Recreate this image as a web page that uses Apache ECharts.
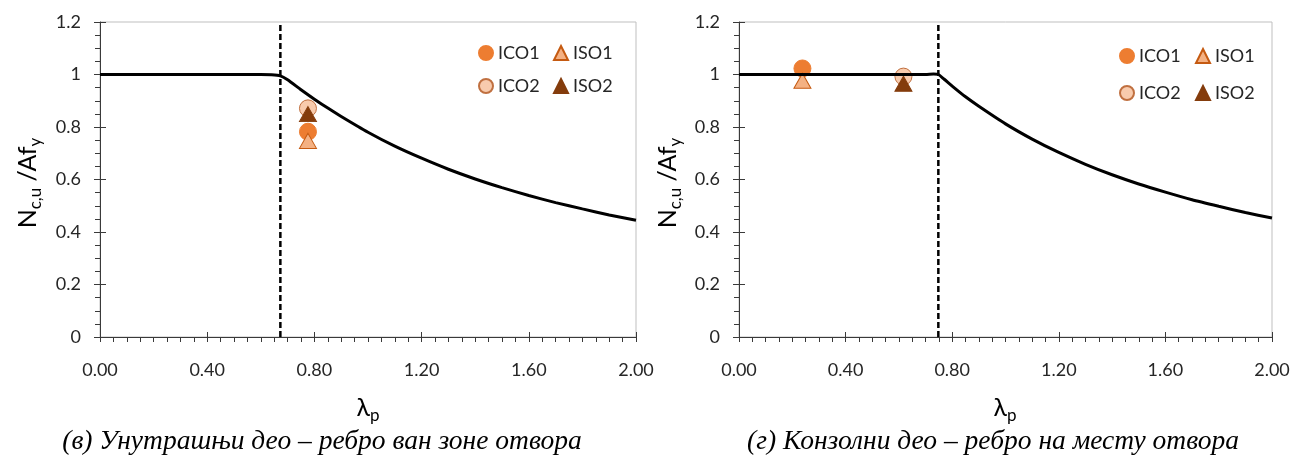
<!DOCTYPE html>
<html>
<head>
<meta charset="utf-8">
<script src="https://cdn.jsdelivr.net/npm/echarts@6/dist/echarts.min.js"></script>
<style>
  html, body { margin: 0; padding: 0; background: #fff; }
  #chart { width: 1295px; height: 459px; }
</style>
</head>
<body>
<div id="chart"></div>
<script>
// Design resistance curves (slenderness λp vs. Nc,u/Afy)
const curveXA = [0, 0.60, 0.64, 0.673, 0.70, 0.75, 0.80, 0.85, 0.90, 1.00, 1.10, 1.20, 1.30, 1.40, 1.50, 1.60, 1.70, 1.80, 1.90, 2.00];
const curveYA = [1, 1, 0.999, 0.995, 0.980, 0.942, 0.906, 0.872, 0.840, 0.780, 0.727, 0.681, 0.639, 0.602, 0.569, 0.539, 0.512, 0.488, 0.465, 0.445];
const curveXB = [0, 0.70, 0.73, 0.748, 0.77, 0.80, 0.85, 0.90, 1.00, 1.10, 1.20, 1.30, 1.40, 1.50, 1.60, 1.70, 1.80, 1.90, 2.00];
const curveYB = [1, 1, 1.002, 1.000, 0.982, 0.956, 0.915, 0.879, 0.812, 0.754, 0.703, 0.658, 0.618, 0.583, 0.552, 0.523, 0.498, 0.474, 0.453];

// Limiting slenderness (vertical dashed lines)
const limitA = 0.673;
const limitB = 0.748;

// Test results: [λp, Nc,u/Afy]
const ico1A = [[0.776, 0.782]];
const iso1A = [[0.776, 0.747]];
const ico2A = [[0.776, 0.871]];
const iso2A = [[0.776, 0.849]];
const ico1B = [[0.238, 1.023]];
const iso1B = [[0.238, 0.976]];
const ico2B = [[0.617, 0.992]];
const iso2B = [[0.617, 0.965]];

const captions = ['(в) Унутрашњи део – ребро ван зоне отвора', '(г) Конзолни део – ребро на месту отвора'];

const FONT = 'Lato, "Open Sans", sans-serif';
const AXIS_COLOR = '#3a3a3a';
const TEXT_COLOR = '#262626';

const pairs = (xs, ys) => xs.map((x, i) => [x, ys[i]]);

const grids = [
  { left: 100, top: 22, width: 536, height: 315 },
  { left: 739, top: 22, width: 533, height: 315 }
];

function mainX(g) {
  return {
    type: 'value', gridIndex: g, position: 'bottom', min: 0, max: 2, interval: 0.4,
    axisLine: { show: true, onZero: false, lineStyle: { color: AXIS_COLOR, width: 1 } },
    axisTick: { show: true, length: 5, lineStyle: { color: AXIS_COLOR } },
    minorTick: { show: true, splitNumber: 8, length: 5, lineStyle: { color: AXIS_COLOR } },
    axisLabel: { formatter: v => v.toFixed(2), fontSize: 18, fontFamily: FONT, color: TEXT_COLOR, margin: 24 },
    splitLine: { show: false }, minorSplitLine: { show: false }
  };
}
function innerX(g) {
  return {
    type: 'value', gridIndex: g, position: 'bottom', min: 0, max: 2, interval: 0.4,
    axisLine: { show: false, onZero: false },
    axisTick: { show: true, inside: true, length: 5, lineStyle: { color: AXIS_COLOR } },
    axisLabel: { show: false }, splitLine: { show: false }
  };
}
function mainY(g) {
  return {
    type: 'value', gridIndex: g, position: 'left', min: 0, max: 1.2, interval: 0.2,
    axisLine: { show: true, onZero: false, lineStyle: { color: AXIS_COLOR, width: 1 } },
    axisTick: { show: true, length: 6, lineStyle: { color: AXIS_COLOR } },
    minorTick: { show: true, splitNumber: 4, length: 5, lineStyle: { color: AXIS_COLOR } },
    axisLabel: { fontSize: 18, fontFamily: FONT, color: TEXT_COLOR, margin: 19 },
    splitLine: { show: false }, minorSplitLine: { show: false }
  };
}
function innerY(g) {
  return {
    type: 'value', gridIndex: g, position: 'left', min: 0, max: 1.2, interval: 0.2,
    axisLine: { show: false, onZero: false },
    axisTick: { show: true, inside: true, length: 6, lineStyle: { color: AXIS_COLOR } },
    axisLabel: { show: false }, splitLine: { show: false }
  };
}

const markerStyles = {
  ICO1: { symbol: 'circle', size: 17, itemStyle: { color: '#ED7D31', borderColor: '#ED7D31', borderWidth: 1, opacity: 1 } },
  ICO2: { symbol: 'circle', size: 17, itemStyle: { color: '#F8CBAD', borderColor: '#C07040', borderWidth: 1, opacity: 1 } },
  ISO1: { symbol: 'triangle', size: [17, 15], itemStyle: { color: '#F4B183', borderColor: '#C55A11', borderWidth: 1, opacity: 1 } },
  ISO2: { symbol: 'triangle', size: [17, 15], itemStyle: { color: '#843C0C', borderColor: '#843C0C', borderWidth: 1, opacity: 1 } }
};

function scatter(name, data, g) {
  const s = markerStyles[name];
  return {
    name, type: 'scatter', xAxisIndex: g * 2, yAxisIndex: g * 2, data,
    symbol: s.symbol, symbolSize: s.size, itemStyle: s.itemStyle, z: 3
  };
}
function curve(data, g) {
  return {
    type: 'line', xAxisIndex: g * 2, yAxisIndex: g * 2, data, smooth: 0.2,
    showSymbol: false, symbol: 'none', lineStyle: { color: '#000', width: 3 }, z: 5, silent: true
  };
}
function limit(x, g) {
  return {
    type: 'line', xAxisIndex: g * 2, yAxisIndex: g * 2, data: [[x, 0], [x, 1.2]],
    showSymbol: false, symbol: 'none', lineStyle: { color: '#000', width: 2.5, type: [6, 3] }, z: 4, silent: true
  };
}

// One legend entry per component so each can be placed on its own
const legendPos = [
  { name: 'ICO1', x: 485, y: 53 }, { name: 'ISO1', x: 560, y: 53 },
  { name: 'ICO2', x: 485, y: 86 }, { name: 'ISO2', x: 560, y: 86 },
  { name: 'ICO1', x: 1126, y: 56 }, { name: 'ISO1', x: 1202, y: 56 },
  { name: 'ICO2', x: 1126, y: 93 }, { name: 'ISO2', x: 1202, y: 93 }
];
const legends = legendPos.map(p => ({
  data: [{ name: p.name, icon: markerStyles[p.name].symbol }],
  left: p.x - 7, top: p.y - 9, padding: 0, itemWidth: 14, itemHeight: 14, itemGap: 0,
  selectedMode: false,
  textStyle: { fontSize: 18, fontFamily: FONT, color: TEXT_COLOR, padding: [0, 0, 0, 0] }
}));

const titleRich = {
  n: { fontSize: 25, fontFamily: FONT, color: '#000', lineHeight: 32 },
  s: { fontSize: 17, fontFamily: FONT, color: '#000', lineHeight: 17, verticalAlign: 'bottom' }
};

function yTitle(x, y) {
  return {
    type: 'text', x, y, rotation: Math.PI / 2,
    style: { text: '{n|N}{s|c,u}{n| /Af}{s|y}', rich: titleRich, align: 'center', verticalAlign: 'middle' }
  };
}
function xTitle(x, y) {
  return {
    type: 'text', x, y,
    style: { text: '{n|λ}{s|p}', rich: titleRich, align: 'center', verticalAlign: 'middle' }
  };
}
function caption(text, x, y) {
  return {
    type: 'text', x, y,
    style: { text, font: 'italic 27.5px "Liberation Serif", "DejaVu Serif", serif', fill: '#000', align: 'center', verticalAlign: 'middle' }
  };
}

const option = {
  animation: false,
  backgroundColor: '#fff',
  grid: grids.map(g => Object.assign({ show: true, borderColor: '#bfbfbf', borderWidth: 1, backgroundColor: 'transparent' }, g)),
  xAxis: [mainX(0), innerX(0), mainX(1), innerX(1)],
  yAxis: [mainY(0), innerY(0), mainY(1), innerY(1)],
  legend: legends,
  series: [
    limit(limitA, 0),
    scatter('ICO1', ico1A, 0), scatter('ICO2', ico2A, 0), scatter('ISO1', iso1A, 0), scatter('ISO2', iso2A, 0),
    curve(pairs(curveXA, curveYA), 0),
    limit(limitB, 1),
    scatter('ICO1', ico1B, 1), scatter('ICO2', ico2B, 1), scatter('ISO1', iso1B, 1), scatter('ISO2', iso2B, 1),
    curve(pairs(curveXB, curveYB), 1)
  ],
  graphic: [
    yTitle(28, 183), yTitle(668, 183),
    xTitle(368, 408), xTitle(1005, 408),
    caption(captions[0], 322, 442), caption(captions[1], 993, 442)
  ]
};

const chart = echarts.init(document.getElementById('chart'), null, { renderer: 'canvas' });
chart.setOption(option);
</script>
</body>
</html>
